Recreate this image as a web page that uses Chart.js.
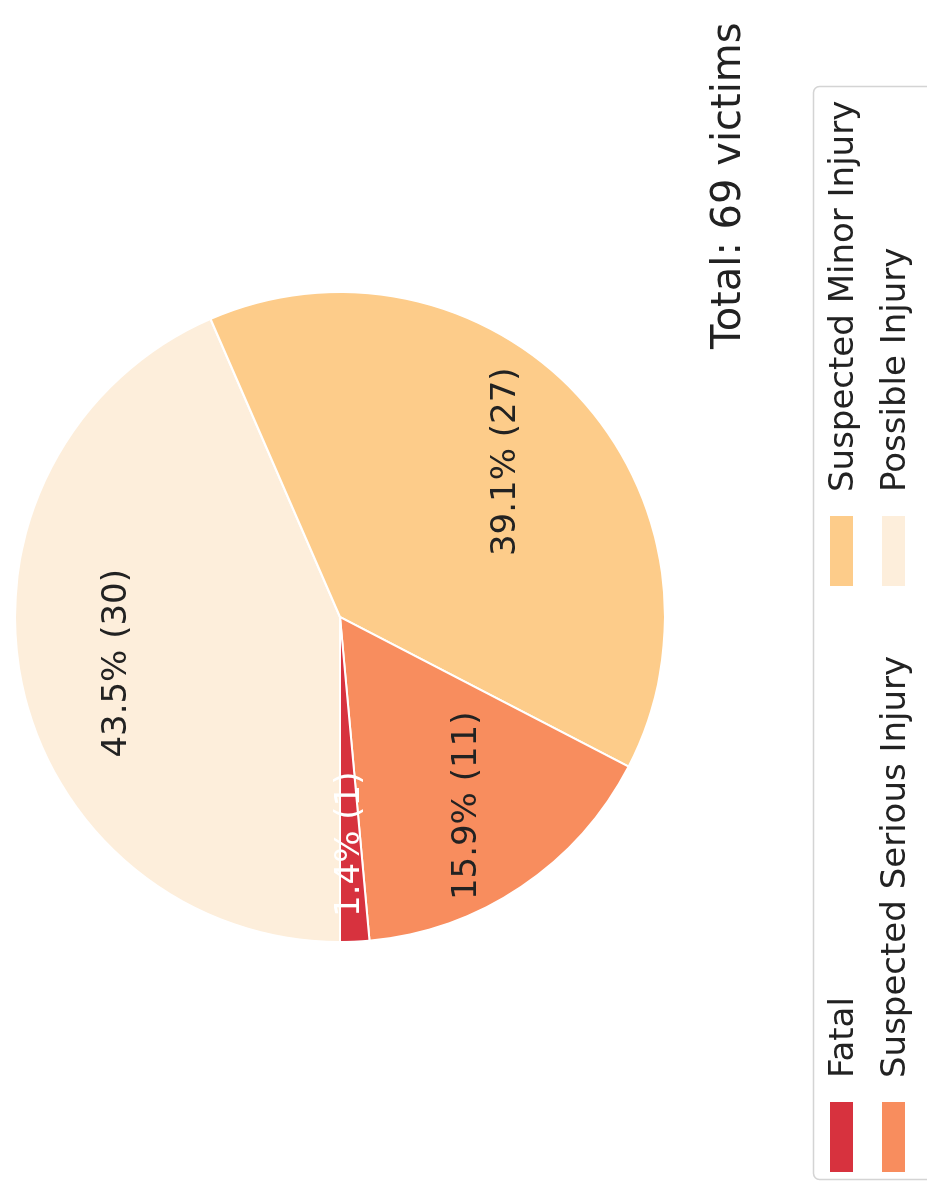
<!DOCTYPE html>
<html>
<head>
<meta charset="utf-8">
<title>Victims by injury severity</title>
<script src="https://cdn.jsdelivr.net/npm/chart.js@4/dist/chart.umd.min.js"></script>
<style>
  html, body { margin: 0; padding: 0; background: #fff; overflow: hidden; }
  /* the chart is laid out landscape and turned a quarter turn to the left */
  #stage {
    position: absolute;
    left: 0;
    top: 0;
    width: 1201px;
    height: 927px;
    transform-origin: 0 0;
    transform: translate(0, 1201px) rotate(-90deg);
  }
</style>
</head>
<body>
<div id="stage"><canvas id="myChart" width="1201" height="927"></canvas></div>
<script>
const categories = ['Fatal', 'Suspected Serious Injury', 'Suspected Minor Injury', 'Possible Injury']
const victims = [1, 11, 27, 30]
const sliceColors = ['#d7323e', '#f88d5e', '#fdcc8a', '#fdeedb']
const labelColors = ['#ffffff', '#222222', '#222222', '#222222']

const total = victims.reduce((sum, v) => sum + v, 0)
const titleText = 'Total: ' + total + ' victims'

// Chart.js only sweeps clockwise, so feed the slices in reverse to get
// Fatal -> Possible running counter-clockwise from 9 o'clock
const order = victims.map((v, i) => i).reverse()

const pctLabel = i => (victims[i] / total * 100).toFixed(1) + '% (' + victims[i] + ')'

const sliceLabels = {
  id: 'sliceLabels',
  afterDatasetsDraw(chart) {
    const ctx = chart.ctx
    const meta = chart.getDatasetMeta(0)
    ctx.save()
    ctx.font = '34px "DejaVu Sans"'
    ctx.textAlign = 'center'
    ctx.textBaseline = 'middle'
    meta.data.forEach((arc, k) => {
      const i = order[k]
      const { x, y, startAngle, endAngle, outerRadius } = arc.getProps(['x', 'y', 'startAngle', 'endAngle', 'outerRadius'], true)
      const mid = (startAngle + endAngle) / 2
      const r = outerRadius * 0.7
      ctx.fillStyle = labelColors[i]
      ctx.fillText(pctLabel(i), x + Math.cos(mid) * r, y + Math.sin(mid) * r)
    })
    ctx.restore()
  }
}

// title text and the boxed two-column legend under the pie
const titleAndLegend = {
  id: 'titleAndLegend',
  afterDraw(chart) {
    const ctx = chart.ctx
    ctx.save()

    ctx.font = '40px "DejaVu Sans"'
    ctx.fillStyle = '#222'
    ctx.textAlign = 'left'
    ctx.textBaseline = 'alphabetic'
    ctx.fillText(titleText, 852, 740)

    ctx.beginPath()
    ctx.roundRect(21.5, 813.5, 1093, 140, 6)
    ctx.fillStyle = 'rgba(255,255,255,0.8)'
    ctx.fill()
    ctx.strokeStyle = '#d4d4d4'
    ctx.lineWidth = 1.5
    ctx.stroke()

    const colX = [29, 615]
    const rowY = [830, 882]
    ctx.font = '34px "DejaVu Sans"'
    categories.forEach((name, i) => {
      const cx = colX[Math.floor(i / 2)]
      const cy = rowY[i % 2]
      ctx.fillStyle = sliceColors[i]
      ctx.fillRect(cx, cy, 70, 23)
      ctx.fillStyle = '#222'
      ctx.fillText(name, cx + 94, cy + 23)
    })
    ctx.restore()
  }
}

const ctx = document.getElementById('myChart').getContext('2d')

const myPieChart = new Chart(ctx, {
  type: 'pie',
  data: {
    labels: order.map(i => categories[i]),
    datasets: [
      {
        data: order.map(i => victims[i]),
        backgroundColor: order.map(i => sliceColors[i]),
        borderColor: '#ffffff',
        borderWidth: 2,
        radius: 325
      }
    ]
  },
  options: {
    responsive: false,
    animation: false,
    events: [],
    rotation: -90,
    layout: {
      padding: { left: 259, top: 15, right: 292, bottom: 262 }
    },
    plugins: {
      legend: { display: false },
      tooltip: { enabled: false }
    }
  },
  plugins: [sliceLabels, titleAndLegend]
})
</script>
</body>
</html>
